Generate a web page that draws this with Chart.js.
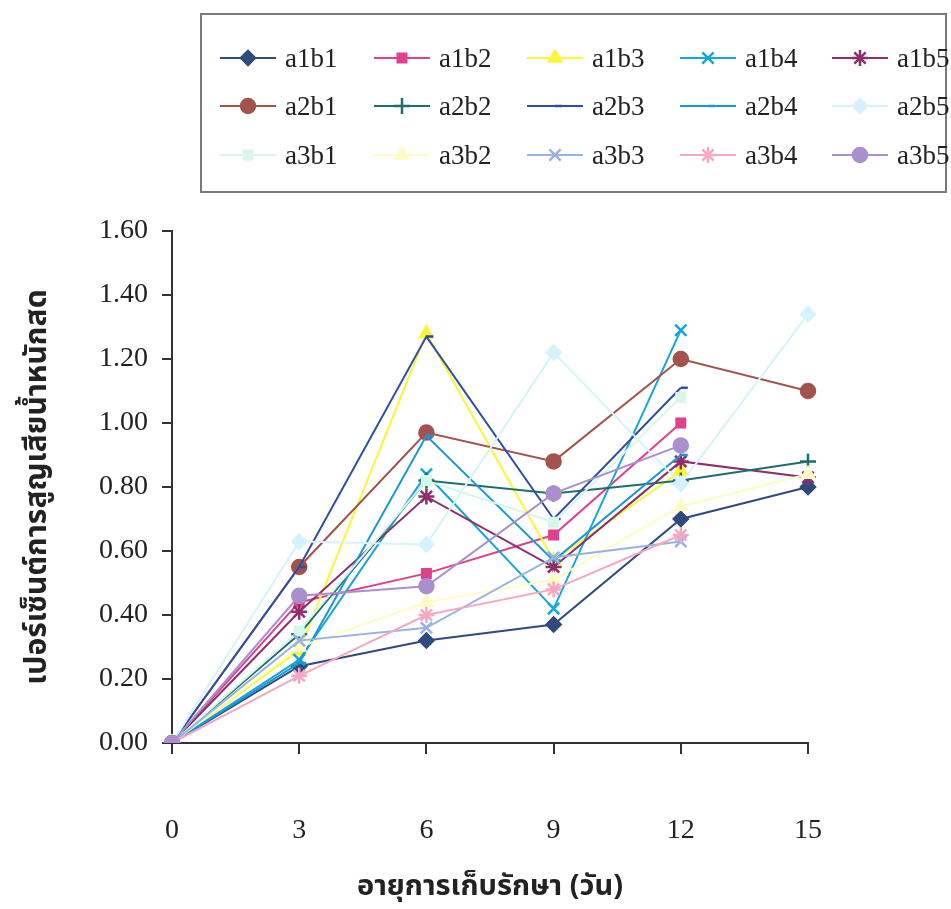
<!DOCTYPE html>
<html>
<head>
<meta charset="utf-8">
<script src="https://cdn.jsdelivr.net/npm/chart.js@4/dist/chart.umd.min.js"></script>
<style>
  html, body { margin: 0; padding: 0; background: #fff; }
  #wrap { position: relative; width: 951px; height: 909px; }
</style>
</head>
<body>
<div id="wrap"><canvas id="lossChart" width="951" height="909"></canvas></div>
<script>
// storage days (x axis)
const days = ['0', '3', '6', '9', '12', '15'];

// weight loss (%) per treatment
const a1b1 = [0, 0.24, 0.32, 0.37, 0.70, 0.80];
const a1b2 = [0, 0.44, 0.53, 0.65, 1.00, null];
const a1b3 = [0, 0.29, 1.28, 0.57, 0.85, null];
const a1b4 = [0, 0.26, 0.84, 0.42, 1.29, null];
const a1b5 = [0, 0.41, 0.77, 0.55, 0.88, 0.83];
const a2b1 = [0, 0.55, 0.97, 0.88, 1.20, 1.10];
const a2b2 = [0, 0.34, 0.82, 0.78, 0.82, 0.88];
const a2b3 = [0, 0.55, 1.27, 0.70, 1.11, null];
const a2b4 = [0, 0.25, 0.96, 0.57, 0.90, null];
const a2b5 = [0, 0.63, 0.62, 1.22, 0.81, 1.34];
const a3b1 = [0, 0.35, 0.82, 0.69, 1.08, null];
const a3b2 = [0, 0.30, 0.44, 0.51, 0.74, 0.84];
const a3b3 = [0, 0.32, 0.36, 0.58, 0.63, null];
const a3b4 = [0, 0.21, 0.40, 0.48, 0.65, null];
const a3b5 = [0, 0.46, 0.49, 0.78, 0.93, null];

// y ticks
const yTicks = [0, 0.2, 0.4, 0.6, 0.8, 1.0, 1.2, 1.4, 1.6];

const seriesNames = ['a1b1', 'a1b2', 'a1b3', 'a1b4', 'a1b5',
                     'a2b1', 'a2b2', 'a2b3', 'a2b4', 'a2b5',
                     'a3b1', 'a3b2', 'a3b3', 'a3b4', 'a3b5'];
const seriesValues = [a1b1, a1b2, a1b3, a1b4, a1b5,
                      a2b1, a2b2, a2b3, a2b4, a2b5,
                      a3b1, a3b2, a3b3, a3b4, a3b5];

// look of each series (colour, marker, marker size)
const styles = [
    { color: '#2f4b7c', marker: 'rectRot',  size: 7 },
    { color: '#e0408c', marker: 'rect',     size: 6 },
    { color: '#fbf736', marker: 'triangle', size: 7 },
    { color: '#14a6dc', marker: 'crossRot', size: 8 },
    { color: '#8c2f6c', marker: 'star',     size: 8 },
    { color: '#a4524c', marker: 'circle',   size: 7 },
    { color: '#1f6e6c', marker: 'cross',    size: 8 },
    { color: '#2d4ea6', marker: 'dash',     size: 7 },
    { color: '#1898d6', marker: 'dash',     size: 7 },
    { color: '#d6f3fb', marker: 'rectRot',  size: 7 },
    { color: '#d6f7ea', marker: 'rect',     size: 6 },
    { color: '#fdfcc4', marker: 'triangle', size: 7 },
    { color: '#98b2e2', marker: 'crossRot', size: 8 },
    { color: '#f6a7c2', marker: 'star',     size: 8 },
    { color: '#ab8fcc', marker: 'circle',   size: 7 }
];

const serif = "'Liberation Serif', 'Times New Roman', serif";
const thai = "'Noto Sans Thai', 'Loma', 'Garuda', 'DejaVu Sans', sans-serif";

const datasets = seriesNames.map((name, i) => ({
    label: name,
    data: seriesValues[i],
    borderColor: styles[i].color,
    backgroundColor: styles[i].color,
    pointBackgroundColor: styles[i].color,
    pointBorderColor: styles[i].color,
    pointStyle: styles[i].marker,
    pointRadius: styles[i].size,
    pointBorderWidth: 2.5,
    borderWidth: 2,
    tension: 0,
    spanGaps: false,
    order: 15 - i  // later series drawn on top, like the original
}));

// legend drawn as a boxed 5 x 3 grid
const gridLegend = {
    id: 'gridLegend',
    afterDraw(chart) {
        const ctx = chart.ctx;
        ctx.save();
        ctx.strokeStyle = '#7a7a7a';
        ctx.lineWidth = 2;
        ctx.strokeRect(201, 14, 745, 178);

        const colX = [220, 374, 527, 680, 832];
        const rowY = [58, 106, 155];
        const lineLen = 56;
        ctx.font = '27px ' + serif;
        ctx.textBaseline = 'middle';
        ctx.textAlign = 'left';

        chart.data.datasets.forEach((ds, i) => {
            const x = colX[i % 5];
            const y = rowY[Math.floor(i / 5)];
            ctx.strokeStyle = ds.borderColor;
            ctx.lineWidth = 2;
            ctx.beginPath();
            ctx.moveTo(x, y);
            ctx.lineTo(x + lineLen, y);
            ctx.stroke();
            const pt = {
                pointStyle: ds.pointStyle,
                radius: ds.pointRadius,
                rotation: 0,
                borderWidth: ds.pointBorderWidth
            };
            ctx.fillStyle = ds.pointBackgroundColor;
            ctx.strokeStyle = ds.pointBorderColor;
            ctx.lineWidth = ds.pointBorderWidth;
            Chart.helpers.drawPoint(ctx, pt, x + lineLen / 2, y);
            ctx.fillStyle = '#222';
            ctx.fillText(ds.label, x + lineLen + 9, y + 2);
        });
        ctx.restore();
    }
};

const ctx = document.getElementById('lossChart').getContext('2d');
new Chart(ctx, {
    type: 'line',
    data: { labels: days, datasets: datasets },
    plugins: [gridLegend],
    options: {
        responsive: false,
        animation: false,
        layout: { padding: { top: 231, right: 143, bottom: 0, left: 0 } },
        plugins: {
            legend: { display: false },
            tooltip: { enabled: false }
        },
        scales: {
            x: {
                type: 'category',
                offset: false,
                grid: { drawOnChartArea: false, drawTicks: true, tickLength: 11, color: '#333', lineWidth: 2 },
                border: { color: '#333', width: 2 },
                ticks: { color: '#222', padding: 60, font: { family: serif, size: 28 } },
                title: {
                    display: true,
                    text: 'อายุการเก็บรักษา (วัน)',
                    color: '#222',
                    padding: { top: 0, bottom: 2 },
                    font: { family: thai, size: 29, weight: 'bold' }
                },
                afterFit(scale) { scale.height = 909 - 743; }
            },
            y: {
                min: 0,
                max: 1.6,
                afterBuildTicks(scale) { scale.ticks = yTicks.map(v => ({ value: v })); },
                grid: { drawOnChartArea: false, drawTicks: true, tickLength: 10, color: '#333', lineWidth: 2 },
                border: { color: '#333', width: 2 },
                ticks: {
                    color: '#222',
                    padding: 14,
                    font: { family: serif, size: 28 },
                    callback: v => Number(v).toFixed(2)
                },
                title: {
                    display: true,
                    text: 'เปอร์เซ็นต์การสูญเสียน้ำหนักสด',
                    color: '#222',
                    padding: { top: 22, bottom: 0 },
                    font: { family: thai, size: 30, weight: 'bold' }
                },
                afterFit(scale) { scale.width = 172; }
            }
        }
    }
});
</script>
</body>
</html>
